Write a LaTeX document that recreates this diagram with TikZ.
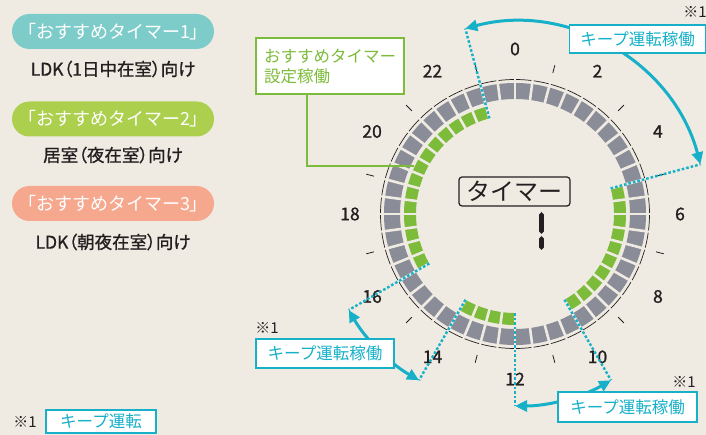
\documentclass[tikz,border=0pt]{standalone}
\usepackage{fontspec}
\setmainfont{Noto Sans CJK JP}
\newfontfamily\heavyfont[FakeBold=1.2]{Noto Sans CJK JP}
\newfontfamily\paltfont[FakeBold=1.0,RawFeature=+palt]{Noto Sans CJK JP}
\usepackage{tikz}
\usetikzlibrary{positioning,calc,arrows.meta,shapes.misc}

\definecolor{bgbeige}{RGB}{239,235,226}
\definecolor{pillteal}{RGB}{126,204,201}
\definecolor{pillgreen}{RGB}{172,207,78}
\definecolor{pillsalmon}{RGB}{246,168,142}
\definecolor{seggray}{RGB}{138,140,151}
\definecolor{seggreen}{RGB}{125,187,58}
\definecolor{keepcyan}{RGB}{22,176,200}
\definecolor{inkdark}{RGB}{35,31,32}

\begin{document}
\begin{tikzpicture}[x=1pt,y=1pt]
  \tikzstyle{pill} = [rounded rectangle, minimum width=202pt, minimum height=35pt, inner sep=0pt, text=white, font=\fontsize{18}{18}\selectfont]
  \tikzstyle{usage} = [text=inkdark, font=\paltfont\fontsize{17.5}{17.5}\selectfont]
  \tikzstyle{hournum} = [text=inkdark, font=\heavyfont\fontsize{17.5}{17.5}\selectfont]
  \tikzstyle{keepbox} = [draw=keepcyan, line width=1.5pt, fill=white, text=keepcyan, minimum width=136pt, minimum height=28pt, inner sep=0pt, font=\fontsize{16.5}{16.5}\selectfont]
  \tikzstyle{keeparrow} = [draw=keepcyan, line width=3pt, arrows={Triangle[length=12pt,width=11pt]-Triangle[length=12pt,width=11pt]}]
  \tikzstyle{keepdots} = [draw=keepcyan, line width=2.4pt, dash pattern=on 2.6pt off 2pt]
  \tikzstyle{note} = [text=inkdark, font=\fontsize{15}{15}\selectfont, inner sep=0pt]

  % background
  \fill[bgbeige] (0,0) rectangle (706,-435);
  \useasboundingbox (0,0) rectangle (706,-435);

  % timer legends
  \node[pill, fill=pillteal] (timer1) at (113,-31.5) {「おすすめタイマー1」};
  \node[usage] (room1) at (113,-69) {LDK（1日中在室）向け};
  \node[pill, fill=pillgreen] (timer2) at (113,-119) {「おすすめタイマー2」};
  \node[usage] (room2) at (113,-155) {居室（夜在室）向け};
  \node[pill, fill=pillsalmon] (timer3) at (113,-203.5) {「おすすめタイマー3」};
  \node[usage] (room3) at (113,-242) {LDK（朝夜在室）向け};

  % dial
  \coordinate (c) at (515,-214);
  \fill[seggray, even odd rule] (c) circle[radius=131] (c) circle[radius=115];
  \foreach \a/\b in {5/10,12/14,16/23}
    \fill[seggreen] ($(c)+({90-15*\a}:111)$) arc[start angle={90-15*\a}, end angle={90-15*\b}, radius=111]
      -- ($(c)+({90-15*\b}:99)$) arc[start angle={90-15*\b}, end angle={90-15*\a}, radius=99] -- cycle;
  \foreach \k in {0,...,47}
    \draw[bgbeige, line width=2.6pt] ($(c)+({7.5*\k}:97)$) -- ($(c)+({7.5*\k}:133)$);
  \foreach \k in {0,...,47}
    \draw[inkdark, line width=0.7pt] ($(c)+({90-7.5*\k-0.5}:134.5)$)
      arc[start angle={90-7.5*\k-0.5}, end angle={90-7.5*\k-7}, radius=134.5];
  \foreach \h in {1,3,...,23}
    \draw[inkdark, line width=0.8pt] ($(c)+({90-15*\h}:146)$) -- ($(c)+({90-15*\h}:154)$);
  \foreach \h in {0,2,...,22}
    \node[hournum] (hour\h) at ($(c)+({90-15*\h}:165)$) {\h};

  % set time box
  \node[draw=seggreen, line width=1.5pt, fill=white, text=seggreen, minimum width=148pt, minimum height=56pt,
        inner sep=0pt, align=left, font=\fontsize{16.5}{20}\selectfont] (setbox) at (330,-66) {おすすめタイマー\\設定稼働};
  \coordinate (setend) at (414,-166);
  \draw[seggreen, line width=1.5pt] ($(setbox.south west)!0.345!(setbox.south east)$) |- (setend);

  % center display
  \node[draw=inkdark, line width=1.2pt, rounded corners=3pt, minimum width=111pt, minimum height=29pt,
        inner sep=0pt, text=inkdark, font=\fontsize{24}{24}\selectfont] (timerlabel) at (514.5,-191.5) {タイマー};
  \fill[inkdark] (541.5,-212) -- (543.9,-214.5) -- (543.9,-231.5) -- (541.5,-234) -- (539.1,-231.5) -- (539.1,-214.5) -- cycle;
  \fill[inkdark] (541.5,-236) -- (543.9,-238.5) -- (543.9,-247.5) -- (541.5,-250) -- (539.1,-247.5) -- (539.1,-238.5) -- cycle;

  % keep running
  \foreach \h in {23,5,10,12,14,16} {
    \coordinate (in\h) at ($(c)+({90-15*\h}:99)$);
    \coordinate (out\h) at ($(c)+({90-15*\h}:192)$);
    \draw[keepdots] (in\h) -- (out\h);
  }
  \draw[keeparrow] (out23) arc[start angle=105, end angle=15, radius=192];
  \draw[keeparrow] (out14) arc[start angle=-120, end angle=-150, radius=192];
  \draw[keeparrow] (out10) arc[start angle=-60, end angle=-90, radius=192];
  \node[keepbox] (keeptop) at (637.5,-39) {キープ運転稼働};
  \node[keepbox, minimum width=138pt, minimum height=29pt] (keepleft) at (325,-353.5) {キープ運転稼働};
  \node[keepbox, minimum width=139pt, minimum height=30pt] (keepright) at (627.5,-407) {キープ運転稼働};
  \node[note] (marktop) at (695,-12) {※1};
  \node[note] (markleft) at (267,-328) {※1};
  \node[note] (markright) at (684,-382) {※1};

  % footnote
  \node[note] (legendmark) at (25,-422) {※1};
  \node[keepbox, minimum width=110pt, minimum height=23pt] (legendbox) at (101,-421.5) {キープ運転};
\end{tikzpicture}
\end{document}
